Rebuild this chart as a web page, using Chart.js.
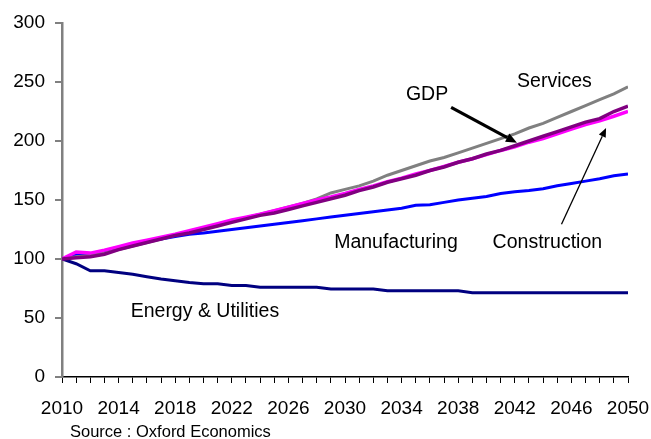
<!DOCTYPE html>
<html>
<head>
<meta charset="utf-8">
<script src="https://cdn.jsdelivr.net/npm/chart.js@4/dist/chart.umd.min.js"></script>
<style>
  html, body { margin: 0; padding: 0; background: #fff; }
  #wrap { width: 651px; height: 439px; position: relative; }
</style>
</head>
<body>
<div id="wrap"><canvas id="c" width="651" height="439"></canvas></div>
<script>
// Output index by sector, 2010 = 100
const years = [];
for (let y = 2010; y <= 2050; y++) years.push(y);

const services = [100, 102, 103, 105, 108, 111, 114, 117, 120, 123, 126, 129, 132, 135, 138, 141, 144, 147, 151, 156,
  159, 162, 166, 171, 175, 179, 183, 186, 190, 194, 198, 202, 206, 211, 215, 220, 225, 230, 235, 240, 246];
const gdp = [100, 101, 102, 104, 108, 111, 114, 117, 120, 122, 125, 128, 131, 134, 137, 139, 142, 145, 148, 151,
  154, 158, 161, 165, 168, 171, 175, 178, 182, 185, 189, 192, 196, 200, 204, 208, 212, 216, 219, 225, 229.5];
const construction = [100, 106, 105, 107.5, 110.5, 113.5, 116, 118.5, 121, 124, 127, 130, 133, 135.5, 138, 141, 144, 147, 150, 152.5,
  155.5, 159, 162, 165.5, 168.5, 172, 175, 178.5, 182, 185, 188.5, 192, 195, 199, 202, 206, 210, 214, 217, 221, 225];
const manufacturing = [100, 104, 104, 107, 110, 113, 115, 117, 119, 121, 122, 123.5, 125, 126.5, 128, 129.5, 131, 132.5, 134, 135.5,
  137, 138.5, 140, 141.5, 143, 145.5, 146, 148, 150, 151.5, 153, 155.5, 157, 158, 159.5, 162, 164, 166, 168, 170.5, 172];
const energy = [100, 96, 90, 90, 88.5, 87, 85, 83, 81.5, 80, 79, 79, 77.5, 77.5, 76, 76, 76, 76, 76, 74.5,
  74.5, 74.5, 74.5, 73, 73, 73, 73, 73, 73, 71.5, 71.5, 71.5, 71.5, 71.5, 71.5, 71.5, 71.5, 71.5, 71.5, 71.5, 71.5];

const yTicks = [0, 50, 100, 150, 200, 250, 300];
const sourceNote = 'Source : Oxford Economics';

// Series labels, placed in data coordinates [year, value]
const seriesLabels = [
  { text: 'Services', at: [2044.8, 250] },
  { text: 'GDP', at: [2035.8, 239] },
  { text: 'Manufacturing', at: [2033.6, 114] },
  { text: 'Construction', at: [2044.3, 114] },
  { text: 'Energy & Utilities', at: [2020.1, 55.3] }
];
// Pointer arrows, from/to in data coordinates
const pointers = [
  { from: [2037.5, 228.5], to: [2042.15, 198.5], width: 3.2, head: 11 },
  { from: [2045.3, 129.5], to: [2048.45, 211], width: 1.3, head: 9 }
];

const toPoints = arr => arr.map((v, i) => ({ x: years[i], y: v }));
const FONT = 'Liberation Sans, Arial, sans-serif';

function line(label, data, color, width, order) {
  return {
    label, data: toPoints(data), borderColor: color, backgroundColor: color,
    borderWidth: width, pointRadius: 0, tension: 0, fill: false, order
  };
}

const annotations = {
  id: 'annotations',
  afterDatasetsDraw(chart) {
    const ctx = chart.ctx;
    const xs = chart.scales.x, ys = chart.scales.y;
    const px = p => [xs.getPixelForValue(p[0]), ys.getPixelForValue(p[1])];
    ctx.save();
    ctx.fillStyle = '#000';
    ctx.font = '19.5px ' + FONT;
    ctx.textAlign = 'center';
    ctx.textBaseline = 'middle';
    seriesLabels.forEach(l => {
      const [x, y] = px(l.at);
      ctx.fillText(l.text, x, y);
    });
    pointers.forEach(a => {
      const [x1, y1] = px(a.from);
      const [x2, y2] = px(a.to);
      const ang = Math.atan2(y2 - y1, x2 - x1);
      const bx = x2 - a.head * Math.cos(ang), by = y2 - a.head * Math.sin(ang);
      ctx.strokeStyle = '#000';
      ctx.lineWidth = a.width;
      ctx.lineCap = 'butt';
      ctx.beginPath();
      ctx.moveTo(x1, y1);
      ctx.lineTo(bx, by);
      ctx.stroke();
      const hw = a.head * 0.42;
      ctx.beginPath();
      ctx.moveTo(x2, y2);
      ctx.lineTo(bx + hw * Math.sin(ang), by - hw * Math.cos(ang));
      ctx.lineTo(bx - hw * Math.sin(ang), by + hw * Math.cos(ang));
      ctx.closePath();
      ctx.fill();
    });
    ctx.font = '16.5px ' + FONT;
    ctx.textAlign = 'left';
    ctx.textBaseline = 'alphabetic';
    ctx.fillText(sourceNote, 70, 437);
    ctx.restore();
  }
};

new Chart(document.getElementById('c'), {
  type: 'line',
  data: {
    datasets: [
      line('GDP', gdp, '#800080', 3.5, 1),
      line('Construction', construction, '#FF00FF', 3.5, 2),
      line('Services', services, '#808080', 3, 3),
      line('Manufacturing', manufacturing, '#0000FF', 3, 4),
      line('Energy & Utilities', energy, '#000080', 3, 5)
    ]
  },
  options: {
    responsive: false,
    animation: false,
    devicePixelRatio: 1,
    layout: { padding: { left: 0, top: 23, right: 23, bottom: 0 } },
    plugins: { legend: { display: false }, tooltip: { enabled: false } },
    scales: {
      x: {
        type: 'linear', min: 2010, max: 2050,
        afterFit: s => { s.height = 62; s.paddingLeft = 0; s.paddingRight = 0; },
        ticks: {
          stepSize: 1, autoSkip: false, maxRotation: 0, padding: 14,
          color: '#000', font: { family: FONT, size: 19 },
          callback: v => ((v - 2010) % 4 === 0 ? String(v) : '')
        },
        grid: { drawOnChartArea: false, drawTicks: true, tickLength: 6, color: '#000', lineWidth: 1 },
        border: { display: true, color: '#000', width: 1.5 }
      },
      y: {
        min: 0, max: 300,
        afterFit: s => { s.width = 62; s.paddingTop = 0; s.paddingBottom = 0; },
        afterBuildTicks: s => { s.ticks = yTicks.map(v => ({ value: v })); },
        ticks: { padding: 10, color: '#000', font: { family: FONT, size: 19 } },
        grid: { drawOnChartArea: false, drawTicks: true, tickLength: 7, color: '#808080', lineWidth: 2 },
        border: { display: true, color: '#808080', width: 2.5 }
      }
    }
  },
  plugins: [annotations]
});
</script>
</body>
</html>
